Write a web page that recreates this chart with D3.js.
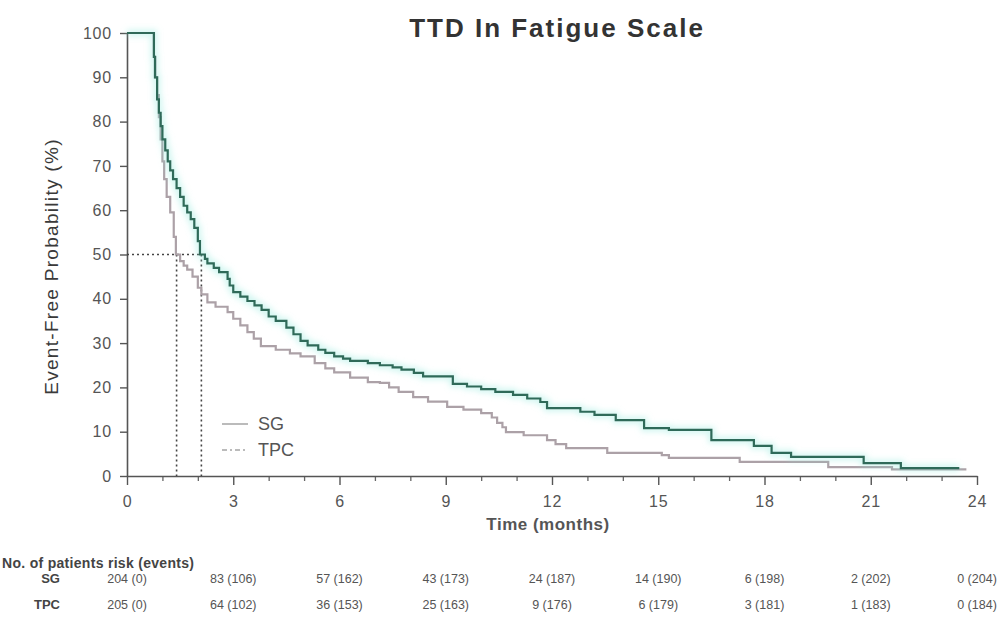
<!DOCTYPE html>
<html>
<head>
<meta charset="utf-8">
<script src="https://cdn.jsdelivr.net/npm/d3@7"></script>
<style>
  body { margin: 0; background: #fff; }
  text { font-family: "Liberation Sans", Arial, sans-serif; }
</style>
</head>
<body>
<div id="chart"></div>
<script>
// KM curve readings (months, event-free %)
const sgTime = [0, 0.76, 0.79, 0.85, 0.9, 0.95, 1.0, 1.08, 1.15, 1.22, 1.3, 1.4, 1.5, 1.6, 1.7, 1.8, 1.9, 2.0, 2.06, 2.2, 2.27, 2.45, 2.6, 2.84, 2.9, 3.0, 3.2, 3.4, 3.6, 3.8, 4.0, 4.2, 4.5, 4.7, 4.9, 5.1, 5.4, 5.6, 5.85, 6.1, 6.3, 6.8, 7.14, 7.5, 7.75, 8.1, 8.36, 9.2, 9.6, 10.0, 10.4, 10.9, 11.3, 11.67, 11.86, 12.8, 13.2, 13.8, 14.6, 15.3, 16.5, 17.7, 18.2, 18.75, 20.8, 21.85, 23.5];
const sgProb = [100, 94.6, 90, 85, 82, 79, 76, 73.5, 71, 69, 67, 65, 63, 61, 59.5, 58, 56, 53, 50, 49, 48, 47, 46, 44.5, 43, 41.5, 40.5, 39.5, 38.5, 37.5, 36, 35, 33.5, 32, 30.5, 29.5, 28.5, 27.8, 27, 26.5, 26, 25.5, 25, 24.5, 24, 23.3, 22.5, 20.8, 20.2, 19.6, 19, 18.3, 17.5, 16.7, 15.3, 14.5, 13.8, 12.6, 10.8, 10.4, 8.1, 6.8, 5.2, 4.3, 2.9, 1.8, 1.8];

const tpcTime = [0, 0.76, 0.8, 0.85, 0.9, 0.95, 1.0, 1.05, 1.12, 1.22, 1.32, 1.38, 1.5, 1.6, 1.7, 1.85, 2.0, 2.1, 2.27, 2.5, 2.84, 3.0, 3.2, 3.4, 3.58, 3.78, 4.2, 4.6, 4.9, 5.3, 5.6, 5.85, 6.3, 6.8, 7.14, 7.4, 7.67, 8.08, 8.5, 9.04, 9.5, 10.0, 10.3, 10.45, 10.6, 10.7, 11.2, 11.86, 12.1, 12.4, 13.56, 15.1, 15.3, 17.3, 19.8, 21.6, 23.7];
const tpcProb = [100, 94.6, 90, 86, 81, 76, 71, 67, 63, 59.5, 54, 50, 48.5, 47.5, 46.6, 45, 42.5, 41, 39.2, 38.2, 37, 35.5, 34, 32.5, 31, 29.3, 28.5, 27.7, 27, 25.5, 24.3, 23.4, 22.2, 21.2, 21, 20, 19, 17.8, 16.8, 15.6, 15, 14.2, 13.2, 12, 11, 9.9, 9.2, 8.1, 7.2, 6.3, 5.2, 4.7, 4.1, 3.2, 2.0, 1.5, 1.5];

const medians = [1.4, 2.1];

const xTicks = [0, 3, 6, 9, 12, 15, 18, 21, 24];
const yTicks = [0, 10, 20, 30, 40, 50, 60, 70, 80, 90, 100];

const riskTimes = [0, 3, 6, 9, 12, 15, 18, 21, 24];
const sgRisk = ["204 (0)", "83 (106)", "57 (162)", "43 (173)", "24 (187)", "14 (190)", "6 (198)", "2 (202)", "0 (204)"];
const tpcRisk = ["205 (0)", "64 (102)", "36 (153)", "25 (163)", "9 (176)", "6 (179)", "3 (181)", "1 (183)", "0 (184)"];

const width = 1004, height = 617;

const svg = d3.select("#chart")
    .append("svg")
    .attr("width", width)
    .attr("height", height);

const x = d3.scaleLinear([0, 24], [127, 977]);
const y = d3.scaleLinear([0, 100], [476, 33]);

const defs = svg.append("defs");
defs.append("filter")
    .attr("id", "glow")
    .attr("x", "-5%").attr("y", "-20%").attr("width", "110%").attr("height", "140%")
    .append("feGaussianBlur")
    .attr("stdDeviation", 3);

// title
svg.append("text")
    .attr("x", 557)
    .attr("y", 37)
    .attr("text-anchor", "middle")
    .attr("font-size", 26)
    .attr("font-weight", "bold")
    .attr("letter-spacing", 2)
    .attr("fill", "#333")
    .text("TTD In Fatigue Scale");

// y axis
svg.append("g")
    .attr("transform", `translate(${x(0)},0)`)
    .call(d3.axisLeft(y).tickValues(yTicks).tickSize(7).tickPadding(8).tickSizeOuter(0))
    .call(g => g.select(".domain").attr("stroke", "#555").attr("stroke-width", 1.6))
    .call(g => g.selectAll(".tick line").attr("stroke", "#555").attr("stroke-width", 1.4))
    .call(g => g.selectAll(".tick text")
        .attr("font-size", 16)
        .attr("font-family", "Liberation Sans, Arial, sans-serif")
        .attr("letter-spacing", 0.8)
        .attr("fill", "#555"));

// x axis minor ticks
svg.append("g")
    .attr("transform", `translate(0,${y(0)})`)
    .call(d3.axisBottom(x).tickValues(d3.range(0, 25).filter(d => d % 3 !== 0)).tickSize(5).tickFormat(""))
    .call(g => g.select(".domain").remove())
    .call(g => g.selectAll(".tick line").attr("stroke", "#666").attr("stroke-width", 1.3));

// x axis
svg.append("g")
    .attr("transform", `translate(0,${y(0)})`)
    .call(d3.axisBottom(x).tickValues(xTicks).tickSize(9).tickPadding(11).tickSizeOuter(0))
    .call(g => g.select(".domain").attr("stroke", "#555").attr("stroke-width", 1.6))
    .call(g => g.selectAll(".tick line").attr("stroke", "#555").attr("stroke-width", 1.4))
    .call(g => g.selectAll(".tick text")
        .attr("font-size", 16)
        .attr("font-family", "Liberation Sans, Arial, sans-serif")
        .attr("letter-spacing", 0.8)
        .attr("fill", "#555"));

// axis titles
svg.append("text")
    .attr("transform", `translate(58,${(y(0) + y(100)) / 2 + 12}) rotate(-90)`)
    .attr("text-anchor", "middle")
    .attr("font-size", 19)
    .attr("letter-spacing", 1.3)
    .attr("fill", "#3a3a3a")
    .text("Event-Free Probability (%)");

svg.append("text")
    .attr("x", 548)
    .attr("y", 530)
    .attr("text-anchor", "middle")
    .attr("font-size", 17)
    .attr("font-weight", "bold")
    .attr("letter-spacing", 0.5)
    .attr("fill", "#555")
    .text("Time (months)");

// median reference lines
const med = svg.append("g")
    .attr("stroke", "#444")
    .attr("stroke-width", 1.6)
    .attr("stroke-dasharray", "2,3")
    .attr("fill", "none");

med.append("line")
    .attr("x1", x(0)).attr("x2", x(d3.max(medians)))
    .attr("y1", y(50)).attr("y2", y(50));

med.selectAll("line.v")
    .data(medians)
    .join("line")
    .attr("class", "v")
    .attr("x1", d => x(d)).attr("x2", d => x(d))
    .attr("y1", y(50)).attr("y2", y(0));

// curves
const line = d3.line()
    .x(d => x(d[0]))
    .y(d => y(d[1]))
    .curve(d3.curveStepAfter);

const sgData = sgTime.map((t, i) => [t, sgProb[i]]);
const tpcData = tpcTime.map((t, i) => [t, tpcProb[i]]);

svg.append("path")
    .datum(tpcData)
    .attr("fill", "none")
    .attr("stroke", "#aca1a7")
    .attr("stroke-width", 2.2)
    .attr("d", line);

svg.append("path")
    .datum(sgData)
    .attr("fill", "none")
    .attr("stroke", "#8fe9dc")
    .attr("stroke-opacity", 0.45)
    .attr("stroke-width", 6)
    .attr("filter", "url(#glow)")
    .attr("d", line);

svg.append("path")
    .datum(sgData)
    .attr("fill", "none")
    .attr("stroke", "#2f6a59")
    .attr("stroke-width", 2.2)
    .attr("d", line);

// legend
const legend = svg.append("g")
    .selectAll("g")
    .data([{name: "SG", dash: null, y: 424}, {name: "TPC", dash: "5,3,2,3", y: 450}])
    .join("g")
    .attr("transform", d => `translate(222,${d.y})`)
    .call(g => g.append("line")
        .attr("x1", 0).attr("x2", 26)
        .attr("stroke", "#bbb")
        .attr("stroke-width", 2)
        .attr("stroke-dasharray", d => d.dash))
    .call(g => g.append("text")
        .attr("x", 36)
        .attr("dy", "0.35em")
        .attr("font-size", 18)
        .attr("fill", "#555")
        .text(d => d.name));

// risk table
svg.append("text")
    .attr("x", 2)
    .attr("y", 568)
    .attr("font-size", 14)
    .attr("font-weight", "bold")
    .attr("letter-spacing", 0.3)
    .attr("fill", "#444")
    .text("No. of patients risk (events)");

const rows = [{name: "SG", values: sgRisk, y: 583}, {name: "TPC", values: tpcRisk, y: 609}];

const row = svg.append("g")
    .selectAll("g")
    .data(rows)
    .join("g")
    .attr("transform", d => `translate(0,${d.y})`);

row.append("text")
    .attr("x", 60)
    .attr("text-anchor", "end")
    .attr("font-size", 13)
    .attr("font-weight", "bold")
    .attr("fill", "#444")
    .text(d => d.name);

row.selectAll("text.v")
    .data(d => d.values.map((v, i) => ({v, t: riskTimes[i]})))
    .join("text")
    .attr("class", "v")
    .attr("x", d => x(d.t))
    .attr("text-anchor", "middle")
    .attr("font-size", 12.5)
    .attr("fill", "#555")
    .text(d => d.v);
</script>
</body>
</html>
